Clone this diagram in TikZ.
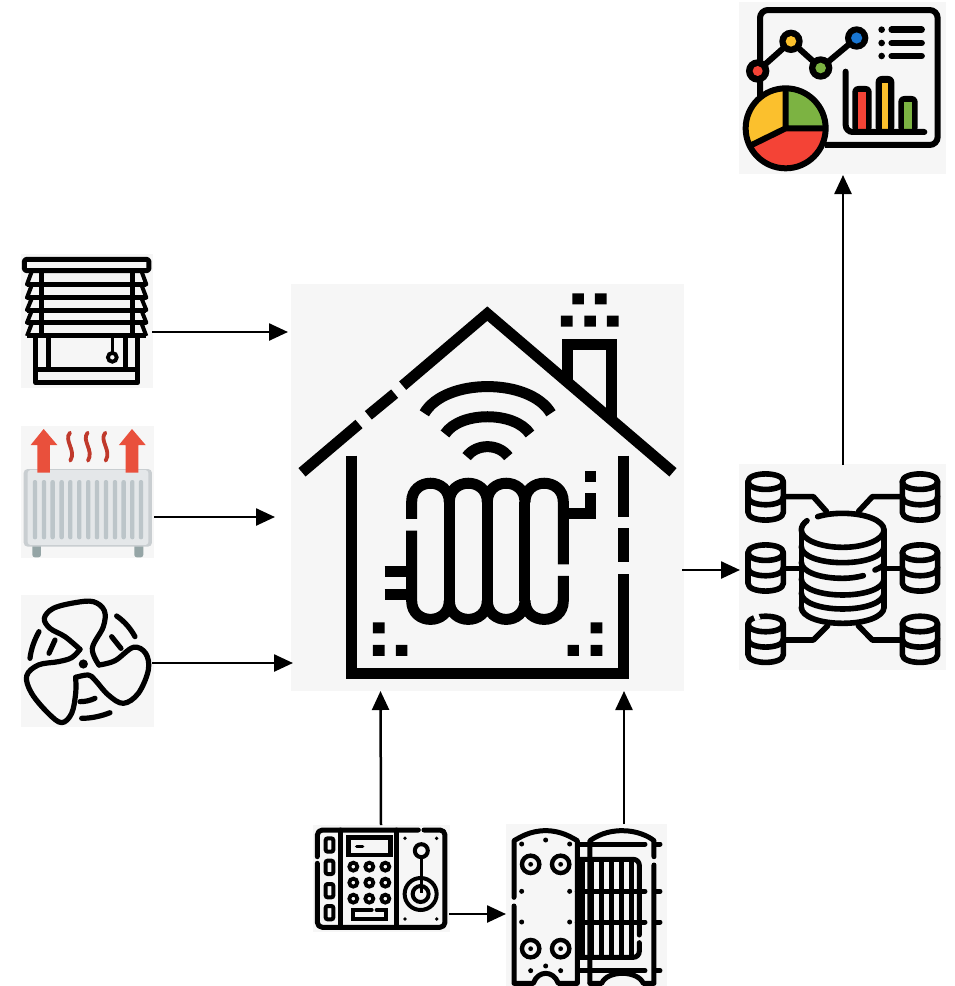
\documentclass[tikz,border=0pt]{standalone}
\usetikzlibrary{arrows.meta}
\definecolor{panelbg}{HTML}{F6F6F6}
\definecolor{chartred}{HTML}{F44336}
\definecolor{chartyellow}{HTML}{FBC02D}
\definecolor{chartgreen}{HTML}{7CB342}
\definecolor{chartblue}{HTML}{1976D2}
\definecolor{arrowred}{HTML}{E9503C}
\definecolor{waveRed}{HTML}{C0392B}
\definecolor{radbody}{HTML}{E4E7E9}
\definecolor{radedge}{HTML}{C9CED1}
\definecolor{radfin}{HTML}{BCC5C9}
\definecolor{radleg}{HTML}{95A5A6}
\tikzset{
  panel/.style={fill=panelbg,draw=none,inner sep=0pt,outer sep=0pt},
  conn/.style={line width=2.5pt,-{Triangle[length=19pt,width=17pt]},shorten >=0pt},
  zoomed/.style 2 args={shift={(#1,#2)},x=0.3333pt,y=-0.3333pt},
  dbline/.style={line width=5.6pt,line cap=round,line join=round},
  blindline/.style={line width=5pt,line join=round},
  fanline/.style={line width=5.2pt,line cap=round,line join=round},
  ctrlline/.style={line width=5pt,line cap=round,line join=round},
  exline/.style={line width=5pt,line cap=round,line join=round},
  houseline/.style={line width=11pt,line cap=butt,miter limit=10},
}
\newcommand{\smalldb}[2]{%
  \begin{scope}[shift={(#1,#2)}]
    \draw[dbline] (-53,0) .. controls (-53,-31) and (53,-31) .. (53,0) .. controls (53,31) and (-53,31) .. (-53,0);
    \draw[dbline] (-53,0) -- (-53,92) .. controls (-53,123) and (53,123) .. (53,92) -- (53,0);
    \draw[dbline] (-53,46) .. controls (-53,77) and (53,77) .. (53,46);
  \end{scope}}
\newcommand{\bigarc}[1]{\draw[dbline] (199,#1) .. controls (199,#1+28) and (254,#1+48) .. (323,#1+48) .. controls (392,#1+48) and (447,#1+28) .. (447,#1);}
\begin{document}
\begin{tikzpicture}[x=1pt,y=-1pt]
\useasboundingbox (0,0) rectangle (954,986);
% panels
\node[panel,minimum width=393pt,minimum height=407pt] (house) at (487.5,487.5) {};
\node[panel,minimum width=207pt,minimum height=172pt] (dash) at (842.5,88) {};
\node[panel,minimum width=207pt,minimum height=206pt] (db) at (842.5,567) {};
\node[panel,minimum width=132pt,minimum height=134pt] (blinds) at (87,321) {};
\node[panel,minimum width=133pt,minimum height=132pt] (rad) at (87.5,492) {};
\node[panel,minimum width=133pt,minimum height=132pt] (fan) at (87.5,661) {};
\node[panel,minimum width=137pt,minimum height=107pt] (ctrl) at (381.5,878.5) {};
\node[panel,minimum width=161pt,minimum height=162pt] (exch) at (586.5,905) {};
% connectors
\draw[conn] ([xshift=-1pt,yshift=-11pt]blinds.east) -- ([xshift=-3pt,yshift=155.5pt]house.west);
\draw[conn] ([yshift=-25pt]rad.east) -- ([xshift=-16pt,yshift=-29.5pt]house.west);
\draw[conn] ([xshift=-2pt,yshift=-2pt]fan.east) -- ([xshift=2pt,yshift=-175.5pt]house.west);
\draw[conn] ([xshift=-2pt,yshift=-82.5pt]house.east) -- ([xshift=1pt,yshift=-3pt]db.west);
\draw[conn] ([xshift=.5pt,yshift=-1pt]db.north) -- ([xshift=.5pt,yshift=-1pt]dash.south);
\draw[conn] ([xshift=-.5pt]ctrl.north) -- ([xshift=-107pt]house.south);
\draw[conn] ([xshift=37.5pt]exch.north) -- ([xshift=136.5pt]house.south);
\draw[conn] ([xshift=-1pt,yshift=-35.5pt]ctrl.east) -- ([yshift=-9pt]exch.west);
% ---------- house
\begin{scope}[zoomed={290}{280}]
  \draw[houseline] (36,577) -- (207,432);
  \draw[houseline] (235,406) -- (314,341);
  \draw[houseline] (338,317) -- (592,101) -- (1149,577);
  \draw[houseline] (832,300) -- (832,194) -- (965,194) -- (965,420);
  \fill (847,40) rectangle (882,73) (915,40) rectangle (950,73)
        (813,107) rectangle (848,140) (883,107) rectangle (918,140) (951,107) rectangle (986,140);
  \draw[houseline] (184,527) -- (184,1180) -- (1001,1180) -- (1001,882);
  \draw[houseline] (1001,745) -- (1001,847);
  \draw[houseline] (1001,527) -- (1001,710);
  \fill (249,1027) rectangle (284,1060) (249,1095) rectangle (284,1128) (318,1095) rectangle (352,1128)
        (833,1095) rectangle (867,1128) (902,1027) rectangle (937,1060) (902,1095) rectangle (937,1128);
  \draw[houseline] (403,400) .. controls (465,293) and (720,293) .. (783,400);
  \draw[houseline] (465,462) .. controls (510,393) and (675,393) .. (720,462);
  \draw[houseline] (530,530) .. controls (560,490) and (625,490) .. (655,530);
  % radiator
  \draw[houseline] (365,717) -- (365,666) .. controls (365,591) and (478,591) .. (478,666)
        .. controls (478,591) and (592,591) .. (592,666)
        .. controls (592,591) and (705,591) .. (705,666)
        .. controls (705,591) and (820,591) .. (820,666) -- (820,853);
  \draw[houseline] (365,752) -- (365,962) .. controls (365,1037) and (478,1037) .. (478,962)
        .. controls (478,1037) and (592,1037) .. (592,962)
        .. controls (592,1037) and (705,1037) .. (705,962)
        .. controls (705,1037) and (820,1037) .. (820,962) -- (820,888);
  \draw[houseline] (478,666) -- (478,962) (592,666) -- (592,962) (705,666) -- (705,962);
  \draw[houseline] (284,875) -- (365,875) (284,943) -- (365,943);
  \draw[houseline] (820,700) -- (901,700) -- (901,640);
  \fill (885,573) rectangle (918,606);
\end{scope}
% ---------- dashboard
\begin{scope}[zoomed={735}{0}]
  \draw[line width=6pt,rounded corners=8pt] (75,290) -- (75,30) -- (608,30) -- (608,435) -- (270,435);
  \draw[line width=6pt,line join=round] (68,213) -- (168,124) -- (257,204) -- (365,114);
  \fill (68,213) circle[radius=11.7pt] (168,124) circle[radius=11.7pt] (257,204) circle[radius=11.7pt] (365,114) circle[radius=11.7pt];
  \fill[chartred] (68,213) circle[radius=5pt];
  \fill[chartyellow] (168,124) circle[radius=5.3pt];
  \fill[chartgreen] (257,204) circle[radius=5.3pt];
  \fill[chartblue] (365,114) circle[radius=5.6pt];
  \fill (440,89) circle[radius=3.3pt] (440,129) circle[radius=3.3pt] (440,168) circle[radius=3.3pt];
  \draw[line width=6.5pt,line cap=round] (470,89) -- (560,89) (470,129) -- (560,129) (470,168) -- (560,168);
  % bars
  \fill[rounded corners=6pt] (352,258) rectangle (410,400);
  \fill[rounded corners=6pt] (422,228) rectangle (478,400);
  \fill[rounded corners=6pt] (490,288) rectangle (548,400);
  \fill[chartred] (370,275) rectangle (392,388);
  \fill[chartyellow] (440,248) rectangle (460,388);
  \fill[chartgreen] (508,305) rectangle (530,388);
  \draw[line width=6pt,line cap=round,rounded corners=7pt] (332,215) -- (332,396) -- (568,396);
  % pie
  \begin{scope}
    \clip (152,385) circle[radius=40pt];
    \fill[chartred] (0,240) rectangle (300,530);
    \fill[chartyellow] (152,385) -- (-100,510) -- (-100,100) -- (152,100) -- cycle;
    \fill[chartgreen] (152,385) -- (152,100) -- (400,100) -- (400,385) -- cycle;
  \end{scope}
  \draw[line width=6pt] (152,385) circle[radius=40pt];
  \draw[line width=6pt,line join=round] (152,268) -- (152,385) -- (270,385) (152,385) -- (50,435);
\end{scope}
% ---------- database
\begin{scope}[zoomed={735}{460}]
  \smalldb{92}{65}
  \smalldb{555}{65}
  \smalldb{92}{278}
  \smalldb{555}{278}
  \smalldb{555}{492}
  \smalldb{92}{492}
  \draw[panelbg,line width=8pt] (57,472) -- (72,466);
  \draw[dbline] (153,110) -- (235,110) -- (275,155);
  \draw[dbline] (497,110) -- (412,110) -- (370,155);
  \draw[dbline] (153,325) -- (195,325) (455,325) -- (497,325);
  \draw[dbline] (153,540) -- (235,540) -- (278,497);
  \draw[dbline] (497,540) -- (412,540) -- (370,497);
  \draw[dbline] (248,170) .. controls (275,162) and (300,160) .. (323,160) .. controls (392,160) and (447,182) .. (447,210) .. controls (447,238) and (392,262) .. (323,262) .. controls (254,262) and (199,238) .. (199,210) .. controls (199,200) and (205,190) .. (216,182);
  \draw[dbline] (199,210) -- (199,442) (447,210) -- (447,442);
  \bigarc{260}
  \draw[dbline] (199,307) .. controls (199,335) and (254,355) .. (323,355) .. controls (345,355) and (365,352) .. (385,347);
  \draw[dbline] (420,330) .. controls (437,323) and (447,317) .. (447,310);
  \bigarc{357}
  \bigarc{399}
  \bigarc{442}
\end{scope}
% ---------- blinds
\begin{scope}[zoomed={15}{250}]
  \draw[blindline,rounded corners=2.5pt] (28,28) rectangle (402,62);
  \draw[blindline,line width=4pt] (50,65) -- (36,103) -- (50,106) -- (36,143) -- (50,146) -- (36,180) -- (50,183) -- (36,218) -- (50,221) -- (36,258);
  \draw[blindline,line width=4pt] (380,65) -- (394,103) -- (380,106) -- (394,143) -- (380,146) -- (394,180) -- (380,183) -- (394,218) -- (380,221) -- (394,258);
  \draw[blindline] (36,103) -- (394,103) (36,143) -- (394,143) (36,180) -- (394,180) (36,218) -- (394,218) (36,258) -- (394,258);
  \draw[blindline] (80,65) -- (80,258) (352,65) -- (352,258);
  \draw[blindline] (62,258) -- (62,398) -- (368,398) -- (368,258);
  \draw[blindline] (62,358) -- (368,358) (100,258) -- (100,358) (332,258) -- (332,358);
  \draw[line width=3pt] (292,258) -- (292,309);
  \draw[line width=3.8pt] (292,322) circle[radius=4.4pt];
\end{scope}
% ---------- radiator
\begin{scope}[zoomed={15}{420}]
  \fill[radleg,rounded corners=2.5pt] (52,370) rectangle (78,412);
  \fill[radleg,rounded corners=2.5pt] (358,370) rectangle (385,412);
  \fill[radedge,rounded corners=4pt] (26,147) rectangle (411,380);
  \fill[radbody,rounded corners=3pt] (38,150) rectangle (400,375);
  \foreach \fx in {60,87,113,140,166,193,220,246,273,300,326,352,378}
    \fill[radfin,rounded corners=2pt] (\fx-6.5,180) rectangle (\fx+6.5,358);
  \fill[arrowred] (86,27) -- (127,75) -- (105,75) -- (105,158) -- (67,158) -- (67,75) -- (47,75) -- cycle;
  \fill[arrowred] (351,27) -- (392,75) -- (370,75) -- (370,158) -- (332,158) -- (332,75) -- (312,75) -- cycle;
  \draw[waveRed,line width=3.8pt,line cap=round] (165,38) .. controls (145,62) and (185,90) .. (166,122);
  \draw[waveRed,line width=3.8pt,line cap=round] (218,38) .. controls (198,62) and (238,90) .. (219,122);
  \draw[waveRed,line width=3.8pt,line cap=round] (271,38) .. controls (251,62) and (291,90) .. (272,122);
\end{scope}
% ---------- fan
\begin{scope}[zoomed={15}{590}]
  \draw[fanline] plot[smooth,tension=.6] coordinates {(195,178) (150,140) (105,115) (88,85) (115,55) (180,38) (235,35) (268,62) (265,110) (232,175) (252,225)};
  \draw[fanline] plot[smooth,tension=.6] coordinates {(252,225) (300,212) (355,172) (392,190) (400,240) (370,310) (325,340) (280,315) (240,270) (220,255) (182,262)};
  \draw[fanline] plot[smooth,tension=.6] coordinates {(182,262) (182,310) (170,370) (140,398) (100,370) (50,310) (35,258) (70,225) (130,215) (170,203) (195,178)};
  \fill (205,222) circle[radius=4.6pt];
  \draw[fanline] (305,78) .. controls (330,95) and (348,118) .. (360,140);
  \draw[fanline] (72,125) .. controls (58,150) and (48,178) .. (45,205);
  \draw[fanline] (200,385) .. controls (230,385) and (260,378) .. (285,368);
  \draw[fanline] (290,140) -- (318,175);
  \draw[fanline] (120,150) -- (102,190);
  \draw[fanline] (195,335) .. controls (210,335) and (225,332) .. (240,325);
\end{scope}
% ---------- controller
\begin{scope}[zoomed={310}{820}]
  \draw[ctrlline,rounded corners=5pt] (325,30) -- (22,30) -- (22,110);
  \draw[ctrlline,rounded corners=5pt] (22,130) -- (22,322) -- (405,322) -- (405,30) -- (342,30);
  \draw[ctrlline] (92,30) -- (92,322) (260,30) -- (260,322);
  \foreach \by in {55,122,192,258}
    \draw[line width=4pt,rounded corners=2pt] (47,\by) rectangle (70,\by+40);
  \draw[line width=4.4pt] (115,52) rectangle (242,105);
  \draw[line width=3.4pt,line cap=round] (140,80) -- (158,80);
  \foreach \kx in {130,178,226} \foreach \ky in {140,188,236}
    \draw[line width=3.8pt] (\kx,\ky) circle[radius=4pt];
  \draw[line width=4pt,line cap=round] (185,270) -- (130,270) -- (130,298) -- (228,298) -- (228,270) -- (200,270);
  \draw[line width=4pt] (334,92) circle[radius=6.5pt];
  \draw[line width=3.4pt] (334,112) -- (334,220);
  \draw[line width=4pt] (332,222) circle[radius=16pt];
  \draw[line width=4pt] (332,222) circle[radius=8pt];
  \fill (285,55) circle[radius=1.9pt] (380,55) circle[radius=1.9pt] (285,297) circle[radius=1.9pt] (380,297) circle[radius=1.9pt];
\end{scope}
% ---------- exchanger
\begin{scope}[zoomed={500}{820}]
  \draw[exline] (42,232) -- (42,62) .. controls (60,52) and (90,32) .. (137,32) .. controls (184,32) and (214,52) .. (232,62) -- (232,490) -- (175,490) .. controls (160,450) and (114,450) .. (100,490) -- (42,490) -- (42,258);
  \draw[exline] (270,490) -- (270,62) .. controls (290,48) and (320,32) .. (367,32) .. controls (410,32) and (445,48) .. (462,62) -- (462,110);
  \draw[exline] (462,135) -- (462,490) -- (430,490) .. controls (412,450) and (322,450) .. (305,490) -- (270,490);
  \foreach \dx/\dy in {65/72,137/60,209/72,65/214,209/214,65/306,209/306,92/452,137/438,182/452}
    \fill (\dx,\dy) circle[radius=2.5pt];
  \foreach \px/\py in {92/133,182/133,92/386,182/386} {
    \draw[line width=4.4pt] (\px,\py) circle[radius=8.7pt];
    \fill (\px,\py) circle[radius=2.4pt];
  }
  \draw[exline] (240,72) -- (435,72) (232,214) -- (435,214) (232,306) -- (435,306) (240,452) -- (435,452);
  \draw[exline] (465,72) -- (480,72) (465,214) -- (480,214) (465,306) -- (480,306) (465,452) -- (480,452);
  \draw[exline,rounded corners=6pt] (240,118) -- (418,118) -- (418,345);
  \draw[exline,rounded corners=6pt] (418,368) -- (418,412) -- (240,412);
  \foreach \cx in {248,275,305,335,365,395}
    \draw[exline] (\cx,125) -- (\cx,405);
\end{scope}
\end{tikzpicture}
\end{document}
